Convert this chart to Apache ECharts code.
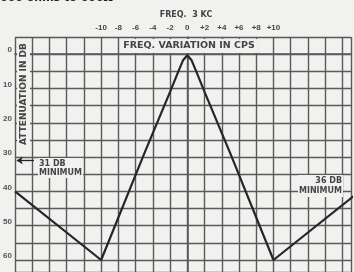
<!DOCTYPE html>
<html>
<head>
<meta charset="utf-8">
<script src="https://cdn.jsdelivr.net/npm/echarts@6/dist/echarts.min.js"></script>
<style>
  html, body { margin: 0; padding: 0; background: #f1f1ef; }
  #chart { width: 354px; height: 272px; }
</style>
</head>
<body>
<div id="chart"></div>
<script>
// frequency offset (cps) and attenuation (db)
const freqCps = [-20, -10, -5, -2, -1, -0.5, 0, 0.5, 1, 2, 5, 10, 20];
const attenDb = [40, 60, 29, 11, 4.8, 1.8, 0.3, 1.8, 4.8, 11, 29, 60, 40];
const freqTicks = [-10, -8, -6, -4, -2, 0, 2, 4, 6, 8, 10];
const dbTicks = [0, 10, 20, 30, 40, 50, 60];
const leftMin = 31;
const rightMin = 36;

const gridCol = '#5a5a5a';
const textCol = '#454545';
const font = 'Liberation Sans';
const wide = 'DejaVu Sans';

var myChart = echarts.init(document.getElementById('chart'));

var option = {
  backgroundColor: '#f1f1ef',
  animation: false,
  grid: { left: 15, top: 37, right: 0, bottom: 0 },
  xAxis: {
    type: 'value',
    position: 'top',
    min: -20, max: 19, interval: 2,
    axisLine: { show: true, lineStyle: { color: gridCol, width: 1.6 } },
    axisTick: { show: false },
    splitLine: { show: true, lineStyle: { color: gridCol, width: 1.4 } },
    axisLabel: {
      margin: 5,
      fontSize: 8, fontWeight: 'bold', fontFamily: font, color: textCol,
      formatter: v => {
        if (freqTicks.indexOf(v) < 0) return '';
        return v > 0 ? '+' + v : String(v);
      }
    }
  },
  yAxis: {
    type: 'value',
    inverse: true,
    min: -5, max: 63.5, interval: 5,
    axisLine: { show: true, lineStyle: { color: gridCol, width: 1.6 } },
    axisTick: { show: false },
    splitLine: { show: true, lineStyle: { color: gridCol, width: 1.4 } },
    axisLabel: {
      margin: 3,
      fontSize: 8, fontWeight: 'bold', fontFamily: font, color: '#555',
      verticalAlign: 'bottom',
      formatter: v => dbTicks.indexOf(v) < 0 ? '' : String(v)
    }
  },
  series: [{
    type: 'line',
    data: freqCps.map((f, i) => [f, attenDb[i]]),
    symbol: 'none',
    clip: true,
    lineStyle: { color: '#262626', width: 2.2 },
    markLine: {
      silent: true,
      symbolSize: 6,
      lineStyle: { color: '#262626', width: 1.3, type: 'solid' },
      label: { show: false },
      data: [[
        { coord: [-17.8, leftMin], symbol: 'none' },
        { coord: [-19.8, leftMin], symbol: 'arrow' }
      ]]
    }
  }],
  graphic: [
    {
      type: 'text', left: 0, top: -7,
      style: { text: '600 ohms to 600Ω', font: 'bold 11px ' + wide, fill: '#222' }
    },
    {
      type: 'text', x: 186, y: 15,
      style: { text: 'FREQ.  3 KC', font: 'bold 8px ' + wide, fill: textCol,
               align: 'center', verticalAlign: 'middle' }
    },
    {
      type: 'text', x: 189, y: 46, z: 10,
      style: { text: 'FREQ. VARIATION IN CPS', font: 'bold 9.5px ' + wide, fill: textCol,
               align: 'center', verticalAlign: 'middle',
               backgroundColor: '#f1f1ef', padding: [2, 3] }
    },
    {
      type: 'text', x: 23.5, y: 94, rotation: Math.PI / 2, z: 10,
      style: { text: 'ATTENUATION IN DB', font: 'bold 9px ' + wide, fill: textCol,
               align: 'center', verticalAlign: 'middle',
               backgroundColor: '#f1f1ef', padding: [2, 2] }
    },
    {
      type: 'text', x: 38, y: 168, z: 10,
      style: { text: leftMin + ' DB\nMINIMUM', font: 'bold 8px ' + wide, fill: textCol,
               lineHeight: 9, verticalAlign: 'middle',
               backgroundColor: '#f1f1ef', padding: [1, 1] }
    },
    {
      type: 'text', x: 343, y: 186, z: 10,
      style: { text: rightMin + ' DB\nMINIMUM', font: 'bold 8px ' + wide, fill: textCol,
               lineHeight: 10, align: 'right', verticalAlign: 'middle',
               backgroundColor: '#f1f1ef', padding: [1, 1] }
    }
  ]
};

myChart.setOption(option);
</script>
</body>
</html>
